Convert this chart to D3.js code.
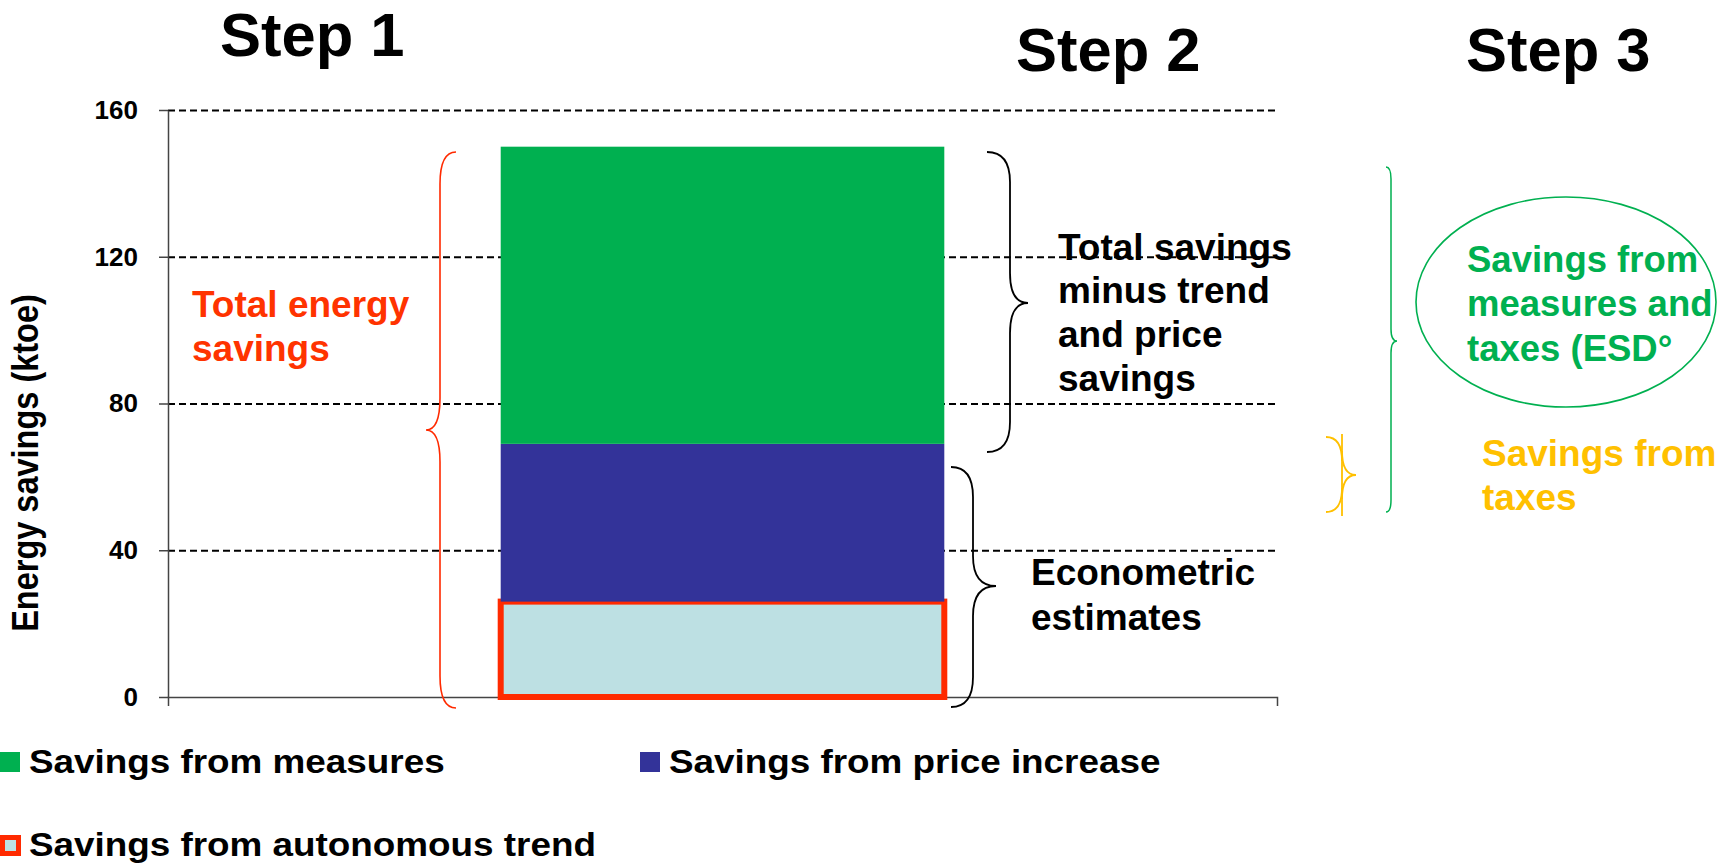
<!DOCTYPE html>
<html>
<head>
<meta charset="utf-8">
<script src="https://cdn.jsdelivr.net/npm/d3@7"></script>
<style>
  html, body { margin: 0; padding: 0; background: #fff; }
  svg { display: block; }
  text { font-family: "Liberation Sans", Arial, sans-serif; font-weight: bold; }
</style>
</head>
<body>
<svg id="chart" width="1729" height="864"></svg>
<script>
// ---- data ----
const categories = ["Total"];
const seriesKeys = ["trend", "price", "measures"];
const seriesNames = ["Savings from autonomous trend", "Savings from price increase", "Savings from measures"];
const trendValues = [26];
const priceValues = [43];
const measuresValues = [81];
const yTicks = [0, 40, 80, 120, 160];
const stepLabels = ["Step 1", "Step 2", "Step 3"];
const yTitle = "Energy savings (ktoe)";

(function () {
const svg = d3.select("#chart");
const pLeft = 168, pRight = 1277, pTop = 110, pBottom = 697;

const y = d3.scaleLinear().domain([0, 160]).range([pBottom, pTop]);
const x = d3.scaleBand().domain(categories).range([pLeft, pRight]).paddingInner(0).paddingOuter(0.75);

const colors = { trend: "#bde0e3", price: "#333399", measures: "#00b050" };
const RED = "#ff2a00", GREEN = "#00b050", YELLOW = "#ffc000";

const rows = categories.map((c, i) => ({ cat: c, trend: trendValues[i], price: priceValues[i], measures: measuresValues[i] }));
const stack = d3.stack().keys(seriesKeys)(rows);

// gridlines
const grid = svg.append("g").attr("transform", `translate(${pLeft},0)`)
  .call(d3.axisLeft(y).tickValues(yTicks.filter(t => t > 0)).tickSize(-(pRight - pLeft)).tickFormat(""));
grid.select(".domain").remove();
grid.selectAll("line").attr("stroke", "#000").attr("stroke-width", 2).attr("stroke-dasharray", "7,4");

// y axis
const yAxis = svg.append("g").attr("transform", `translate(${pLeft},0)`)
  .call(d3.axisLeft(y).tickValues(yTicks).tickSize(9).tickSizeOuter(0).tickPadding(21));
yAxis.select(".domain").attr("stroke", "#444").attr("stroke-width", 1.5);
yAxis.selectAll(".tick line").attr("stroke", "#444").attr("stroke-width", 1.5);
yAxis.selectAll(".tick text").attr("font-size", 26).attr("font-weight", "bold").attr("fill", "#000")
  .style("font-family", "'Liberation Sans', Arial, sans-serif");

// x axis
const xAxis = svg.append("g").attr("transform", `translate(0,${pBottom})`)
  .call(d3.axisBottom(x).tickSize(0).tickSizeOuter(9).tickFormat(""));
xAxis.select(".domain").attr("stroke", "#444").attr("stroke-width", 1.5);

// bars
stack.forEach(layer => {
  const key = layer.key;
  svg.append("g").selectAll("rect").data(layer).join("rect")
    .attr("x", d => x(d.data.cat))
    .attr("width", x.bandwidth())
    .attr("y", d => y(d[1]))
    .attr("height", d => y(d[0]) - y(d[1]))
    .attr("fill", colors[key])
    .attr("stroke", key === "trend" ? RED : "none")
    .attr("stroke-width", key === "trend" ? 6 : 0);
});

// y title
svg.append("text")
  .attr("transform", "translate(38,463) scale(1.15,1) rotate(-90)")
  .attr("text-anchor", "middle")
  .attr("font-size", 32.5)
  .attr("fill", "#000")
  .text(yTitle);

// step labels
const stepPos = [[220, 56], [1016, 71], [1466, 71]];
stepLabels.forEach((s, i) => {
  svg.append("text").attr("x", stepPos[i][0]).attr("y", stepPos[i][1])
    .attr("font-size", 61.5).attr("fill", "#000").text(s);
});

// braces
function brace(xe, xs, xt, yT, yB, yM, r, color, w) {
  const p = d3.path();
  p.moveTo(xe, yT);
  p.quadraticCurveTo(xs, yT, xs, yT + r);
  p.lineTo(xs, yM - r);
  p.quadraticCurveTo(xs, yM, xt, yM);
  p.quadraticCurveTo(xs, yM, xs, yM + r);
  p.lineTo(xs, yB - r);
  p.quadraticCurveTo(xs, yB, xe, yB);
  svg.append("path").attr("d", p.toString()).attr("fill", "none")
    .attr("stroke", color).attr("stroke-width", w);
}
brace(456, 440, 426, 152, 708, 430, 32, RED, 1.6);
brace(987, 1010, 1028, 152, 452, 303, 30, "#000", 1.8);
brace(951, 973, 996, 467, 707, 586, 30, "#000", 1.8);
brace(1386, 1391, 1397, 167, 512, 341, 12, GREEN, 1.5);
brace(1326, 1342, 1356, 437, 512, 475, 24, YELLOW, 1.8);
svg.append("line").attr("x1", 1342).attr("x2", 1342).attr("y1", 434).attr("y2", 516)
  .attr("stroke", YELLOW).attr("stroke-width", 1.8);

// ellipse
svg.append("ellipse").attr("cx", 1566).attr("cy", 302).attr("rx", 150).attr("ry", 105)
  .attr("fill", "none").attr("stroke", GREEN).attr("stroke-width", 1.6);

// annotation texts
function lines(xp, y0, dy, arr, color, size) {
  const t = svg.append("text").attr("x", xp).attr("y", y0).attr("font-size", size).attr("fill", color);
  arr.forEach((s, i) => t.append("tspan").attr("x", xp).attr("y", y0 + i * dy).text(s));
}
lines(192, 317, 43.5, ["Total energy", "savings"], "#ff3300", 37);
lines(1058, 259.5, 43.8, ["Total savings", "minus trend", "and price", "savings"], "#000", 37);
lines(1031, 585, 45, ["Econometric", "estimates"], "#000", 37);
lines(1467, 272, 44.3, ["Savings from", "measures and", "taxes (ESD°"], GREEN, 36.5);
lines(1482, 466, 44, ["Savings from", "taxes"], YELLOW, 37);

// legend
const legendItems = [
  { key: "measures", name: seriesNames[2], x: 0, y: 752 },
  { key: "price", name: seriesNames[1], x: 640, y: 752 },
  { key: "trend", name: seriesNames[0], x: 0, y: 835 }
];
legendItems.forEach(it => {
  const g = svg.append("g");
  if (it.key === "trend") {
    g.append("rect").attr("x", it.x + 2.5).attr("y", it.y + 2.5).attr("width", 16).attr("height", 16)
      .attr("fill", colors.trend).attr("stroke", RED).attr("stroke-width", 5);
  } else {
    g.append("rect").attr("x", it.x).attr("y", it.y).attr("width", 20).attr("height", 20)
      .attr("fill", colors[it.key]);
  }
  g.append("text").attr("transform", `translate(${it.x + 29},${it.y + 21}) scale(1.1,1)`)
    .attr("font-size", 33.5).attr("fill", "#000").text(it.name);
});
})();
</script>
</body>
</html>
